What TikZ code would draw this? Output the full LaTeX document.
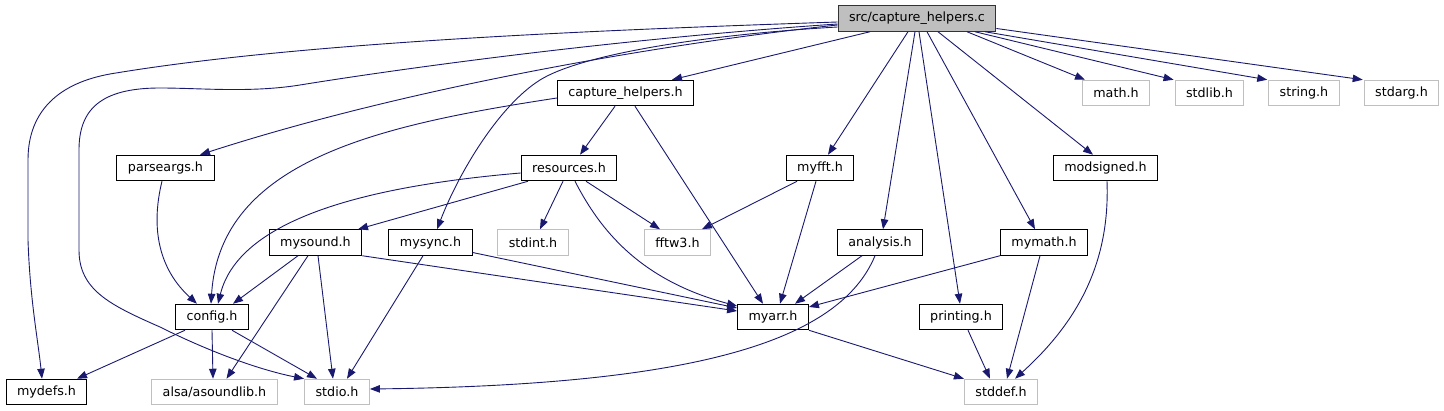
\documentclass[tikz,border=0pt]{standalone}
\usepackage{fontspec}
\setmainfont{DejaVu Sans}
\usetikzlibrary{arrows.meta}
\definecolor{edgeblue}{HTML}{191970}
\definecolor{extgray}{HTML}{BFBFBF}
\begin{document}
\begin{tikzpicture}[
  x=1pt, y=-1pt,
  hfile/.style={rectangle, draw=#1, fill=white, line width=1pt,
    minimum height=25.5pt, inner xsep=11pt, inner ysep=0pt,
    font=\fontsize{12.7}{15}\selectfont},
  dep/.style={draw=edgeblue, line width=0.9pt,
    -{Triangle[length=10pt,width=7.5pt]}}
]
\useasboundingbox (0,0) rectangle (1444,411);
\node[hfile=black!80, fill=extgray] (src) at (917,18.5) {src/capture\_helpers.c};
\node[hfile=black] (chh) at (625.5,93) {capture\_helpers.h};
\node[hfile=extgray] (math) at (1116,93) {math.h};
\node[hfile=extgray] (stdlib) at (1209.5,93) {stdlib.h};
\node[hfile=extgray] (string) at (1304,93) {string.h};
\node[hfile=extgray] (stdarg) at (1401.5,93) {stdarg.h};
\node[hfile=black] (parseargs) at (165.5,168) {parseargs.h};
\node[hfile=black] (resources) at (569,168) {resources.h};
\node[hfile=black] (myfft) at (820,168) {myfft.h};
\node[hfile=black] (modsigned) at (1105.5,168) {modsigned.h};
\node[hfile=black] (mysound) at (315.5,242.5) {mysound.h};
\node[hfile=black] (mysync) at (430.5,242.5) {mysync.h};
\node[hfile=extgray] (stdint) at (533,242.5) {stdint.h};
\node[hfile=extgray] (fftw) at (677.5,242.5) {fftw3.h};
\node[hfile=black] (analysis) at (880,242.5) {analysis.h};
\node[hfile=black] (mymath) at (1044,242.5) {mymath.h};
\node[hfile=black] (config) at (212,317) {config.h};
\node[hfile=black] (myarr) at (773,317) {myarr.h};
\node[hfile=black] (printing) at (961,317) {printing.h};
\node[hfile=black] (mydefs) at (46.5,392) {mydefs.h};
\node[hfile=extgray] (alsa) at (214.5,392) {alsa/asoundlib.h};
\node[hfile=extgray] (stdio) at (337,392) {stdio.h};
\node[hfile=extgray] (stddef) at (1001,392) {stddef.h};

\draw[dep] ([yshift=-3.5]src.west) .. controls (600,30) and (300,42) .. (110,74)
  .. controls (60,83) and (28,110) .. (28,160) -- (28,240)
  .. controls (30,300) and (38,340) .. ([xshift=-4.5]mydefs.north);
\draw[dep] ([yshift=-5.5]src.west) .. controls (600,40) and (380,72) .. (300,85)
  .. controls (250,93) and (200,88) .. (160,88)
  .. controls (100,88) and (79,110) .. (79,150) -- (79,250)
  .. controls (79,290) and (110,305) .. (160,327)
  .. controls (210,352) and (260,370) .. (stdio.north west);
\draw[dep] ([yshift=-6.5]src.west) .. controls (650,45) and (400,90) .. ([xshift=34.5]parseargs.north);
\draw[dep] ([yshift=-8.5]src.west) .. controls (700,35) and (580,55) .. (540,80)
  .. controls (500,105) and (460,170) .. ([xshift=6.5]mysync.north);
\draw[dep] ([xshift=-47]src.south) -- ([xshift=46.5]chh.north);
\draw[dep] ([xshift=-9]src.south) -- ([xshift=8]myfft.north);
\draw[dep] ([xshift=-2]src.south) -- ([xshift=3]analysis.north);
\draw[dep] ([xshift=2]src.south) -- ([xshift=-1]printing.north);
\draw[dep] ([xshift=10]src.south) -- ([xshift=-9]mymath.north);
\draw[dep] ([xshift=21]src.south) -- ([xshift=-12.5]modsigned.north);
\draw[dep] ([xshift=50]src.south) -- ([xshift=-31]math.north);
\draw[dep] ([xshift=58]src.south) -- ([xshift=-1]stdlib.north west);
\draw[dep] ([xshift=68]src.south) -- ([xshift=-1]string.north west);
\draw[dep] ([yshift=-10]src.east) -- ([xshift=-1]stdarg.north west);

\draw[dep] ([yshift=-5]chh.west) .. controls (380,125) and (220,160) .. ([xshift=-1]config.north);
\draw[dep] ([xshift=-10.5]chh.south) -- ([xshift=11]resources.north);
\draw[dep] ([xshift=9.5]chh.south) -- ([xshift=-10]myarr.north);

\draw[dep] ([yshift=-5]resources.west) .. controls (380,185) and (240,215) .. ([xshift=6]config.north);
\draw[dep] ([xshift=-41]resources.south) -- ([xshift=42.5]mysound.north);
\draw[dep] ([xshift=-6]resources.south) -- ([xshift=7]stdint.north);
\draw[dep] ([xshift=17]resources.south) -- ([xshift=-17.5]fftw.north);
\draw[dep] ([xshift=6]resources.south) .. controls (600,230) and (640,280) .. ([yshift=11]myarr.west);

\draw[dep] ([xshift=-3.5]parseargs.south) .. controls (150,230) and (160,270) .. ([xshift=-15]config.north);

\draw[dep] ([xshift=-17.5]mysound.south) -- ([xshift=21]config.north);
\draw[dep] ([xshift=-7.5]mysound.south) -- ([xshift=12]alsa.north);
\draw[dep] ([xshift=2.5]mysound.south) -- ([xshift=-4]stdio.north);
\draw[dep] (mysound.south east) -- ([yshift=6]myarr.west);

\draw[dep] ([xshift=-7.5]mysync.south) -- ([xshift=10]stdio.north);
\draw[dep] ([yshift=-10]mysync.east) -- ([yshift=9]myarr.west);

\draw[dep] ([xshift=-27]config.south) -- ([xshift=30.5]mydefs.north);
\draw[dep] (config.south) -- ([xshift=-1.5]alsa.north);
\draw[dep] ([xshift=20]config.south) -- ([xshift=-20]stdio.north);

\draw[dep] ([xshift=-23]myfft.south) -- ([xshift=24.5]fftw.north);
\draw[dep] ([xshift=-4]myfft.south) -- ([xshift=7]myarr.north);

\draw[dep] ([xshift=-18]analysis.south) -- ([xshift=22]myarr.north);
\draw[dep] ([xshift=-5]analysis.south) .. controls (840,340) and (700,385) .. ([yshift=3]stdio.east);

\draw[dep] (mymath.south west) -- ([yshift=10]myarr.east);
\draw[dep] ([xshift=-4]mymath.south) -- ([xshift=6]stddef.north);

\draw[dep] (myarr.south east) -- (stddef.north west);
\draw[dep] ([xshift=7]printing.south) -- ([xshift=-11]stddef.north);
\draw[dep] ([xshift=1.5]modsigned.south) .. controls (1110,260) and (1080,320) .. ([xshift=14]stddef.north);
\end{tikzpicture}
\end{document}
